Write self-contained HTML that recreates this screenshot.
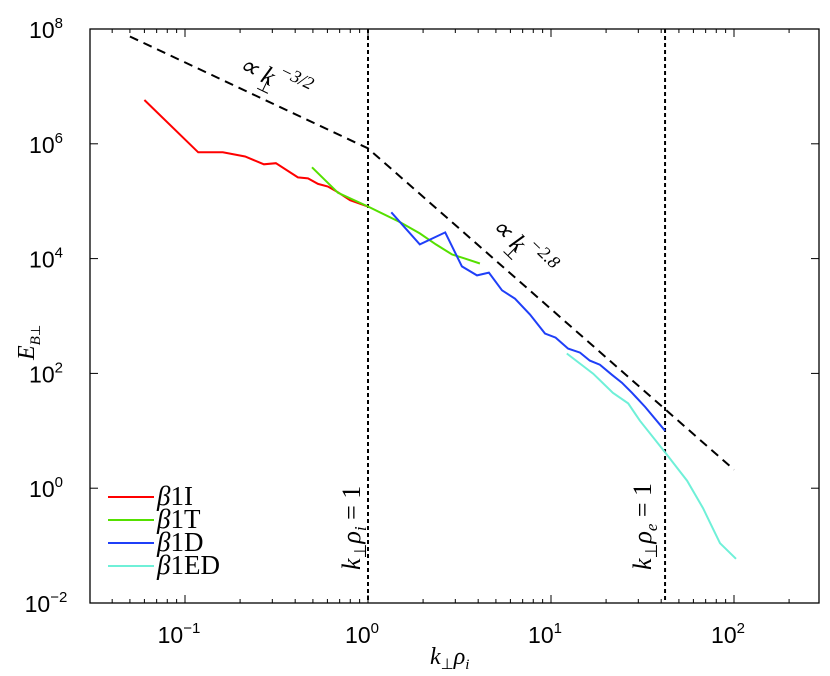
<!DOCTYPE html>
<html><head><meta charset="utf-8"><style>
body{margin:0;background:#fff;}
svg{display:block;font-family:"Liberation Sans",sans-serif;}
.m{font-family:"Liberation Serif",serif;font-style:italic;}
</style></head><body>
<svg id="chart" width="830" height="676"></svg>
<script>
const xTicks=[-1,0,1,2];
const yTicks=[-2,0,2,4,6,8];
const redK=[0.060,0.118,0.161,0.213,0.270,0.314,0.414,0.470,0.533,0.604,0.686,0.798,1.0];
const redE=[5.8e6,7.1e5,7.1e5,6.0e5,4.4e5,4.6e5,2.6e5,2.5e5,2.0e5,1.8e5,1.43e5,1.04e5,8.1e4];
const greenK=[0.494,0.686,1.0,1.50,1.92,2.35,2.88,3.39,4.09];
const greenE=[3.9e5,1.4e5,8.1e4,4.3e4,2.75e4,1.77e4,1.18e4,1.0e4,8.2e3];
const blueK=[1.34,1.92,2.64,3.26,3.94,4.58,5.40,6.36,7.68,9.27,10.6,12.4,14.4,16.3,18.5,21.5,24.4,27.7,32.7,42.0];
const blueE=[6.4e4,1.77e4,2.86e4,7.3e3,5.1e3,5.7e3,2.8e3,2.0e3,1060,495,420,270,230,167,142,95,69,46,26,10];
const cyanK=[12.2,17.0,21.8,26.4,30.6,42,55.4,67.7,74,83.8,102.6];
const cyanE=[222,99,46,30,15,4.2,1.35,0.45,0.25,0.11,0.059];
const fitK=[0.05,1,100];
const fitE=[7.4e7,8.3e5,2.1];
const vlines=[1,42];

const L=90,R=819,T=29,B=603;
const X0=368,XS=183;
const X=k=>X0+Math.log10(k)*XS;
const Y=e=>T+(8-Math.log10(e))*((B-T)/10);
const svg=document.getElementById('chart');
const NS='http://www.w3.org/2000/svg';
function mk(t,a,p){const e=document.createElementNS(NS,t);for(const k in a)e.setAttribute(k,a[k]);(p||svg).appendChild(e);return e;}

let fr=mk('rect',{x:L,y:T,width:R-L,height:B-T,fill:'none',stroke:'#000','stroke-width':1.3});



for(let d=-2;d<=2;d++){for(let m=1;m<=9;m++){const k=m*Math.pow(10,d);const x=X(k);if(x<L||x>R)continue;const len=m===1?8:4;
mk('line',{x1:x,y1:B,x2:x,y2:B-len,stroke:'#000','stroke-width':1});
mk('line',{x1:x,y1:T,x2:x,y2:T+len,stroke:'#000','stroke-width':1});}}
xTicks.forEach(p=>{const g=mk('text',{x:X(Math.pow(10,p))-6,y:B+40,'text-anchor':'middle','font-size':23});


g.innerHTML='10<tspan dy="-10" font-size="15">'+p.toString().replace('-','\u2212')+'</tspan>';});
yTicks.forEach(p=>{const y=Y(Math.pow(10,p));
mk('line',{x1:L,y1:y,x2:L+8,y2:y,stroke:'#000'});mk('line',{x1:R,y1:y,x2:R-8,y2:y,stroke:'#000'});
const g=mk('text',{x:L-44,y:y+9,'text-anchor':'middle','font-size':23});


g.innerHTML='10<tspan dy="-10" font-size="15">'+p.toString().replace('-','\u2212')+'</tspan>';});

vlines.forEach(k=>{const l=mk('line',{x1:X(k),y1:T,x2:X(k),y2:B,stroke:'#000','stroke-width':2,'stroke-dasharray':'4,3'});

});

function series(ks,es,col,name,w,dash){const pts=ks.map((k,i)=>X(k).toFixed(1)+','+Y(es[i]).toFixed(1)).join(' ');
const p=mk('polyline',{points:pts,fill:'none',stroke:col,'stroke-width':w||2,'stroke-dasharray':dash||'none'});

}
series(fitK,fitE,'#000','power-law-fit',2,'9,6');
series(redK,redE,'#f00','series-b1i');
series(greenK,greenE,'#55e000','series-b1t');
series(blueK,blueE,'#1f3ff8','series-b1d');
series(cyanK,cyanE,'#6ff0d8','series-b1ed');
</script>
<svg width="830" height="676" style="position:absolute;left:0;top:0">
<g class="m" font-size="26">
<text x="237" y="70" transform="rotate(26 237 70)">∝ k<tspan dx="-12" dy="8" font-size="17" font-style="normal">⊥</tspan><tspan dy="-22" font-size="18">−3/2</tspan></text>
<text x="490" y="228" transform="rotate(44 490 228)">∝ k<tspan dx="-12" dy="8" font-size="17" font-style="normal">⊥</tspan><tspan dy="-22" font-size="18">−2.8</tspan></text>
<text x="0" y="0" transform="translate(360 570) rotate(-90)">k<tspan dy="6" font-size="17" font-style="normal">⊥</tspan><tspan dy="-6">ρ</tspan><tspan dy="6" font-size="17">i</tspan><tspan dy="-6" font-style="normal"> = 1</tspan></text>
<text x="0" y="0" transform="translate(651 570) rotate(-90)">k<tspan dy="6" font-size="17" font-style="normal">⊥</tspan><tspan dy="-6">ρ</tspan><tspan dy="6" font-size="17">e</tspan><tspan dy="-6" font-style="normal"> = 1</tspan></text>
<text x="430" y="664" font-size="24">k<tspan dy="5" font-size="15" font-style="normal">⊥</tspan><tspan dy="-5">ρ</tspan><tspan dy="5" font-size="15">i</tspan></text>
<text x="0" y="0" font-size="24" transform="translate(34 360) rotate(-90)">E<tspan dy="6" font-size="15">B</tspan><tspan font-size="13" font-style="normal">⊥</tspan></text>
</g>
<g font-size="27" font-family="Liberation Serif, serif">
<line x1="108" y1="497" x2="154" y2="497" stroke="#f00" stroke-width="2"/>
<text x="157" y="505"><tspan font-style="italic">β</tspan>1I</text>
<line x1="108" y1="520" x2="154" y2="520" stroke="#55e000" stroke-width="2"/>
<text x="157" y="528"><tspan font-style="italic">β</tspan>1T</text>
<line x1="108" y1="543" x2="154" y2="543" stroke="#1f3ff8" stroke-width="2"/>
<text x="157" y="551"><tspan font-style="italic">β</tspan>1D</text>
<line x1="108" y1="566" x2="154" y2="566" stroke="#6ff0d8" stroke-width="2"/>
<text x="157" y="574"><tspan font-style="italic">β</tspan>1ED</text>
</g>
</svg>
</body></html>
